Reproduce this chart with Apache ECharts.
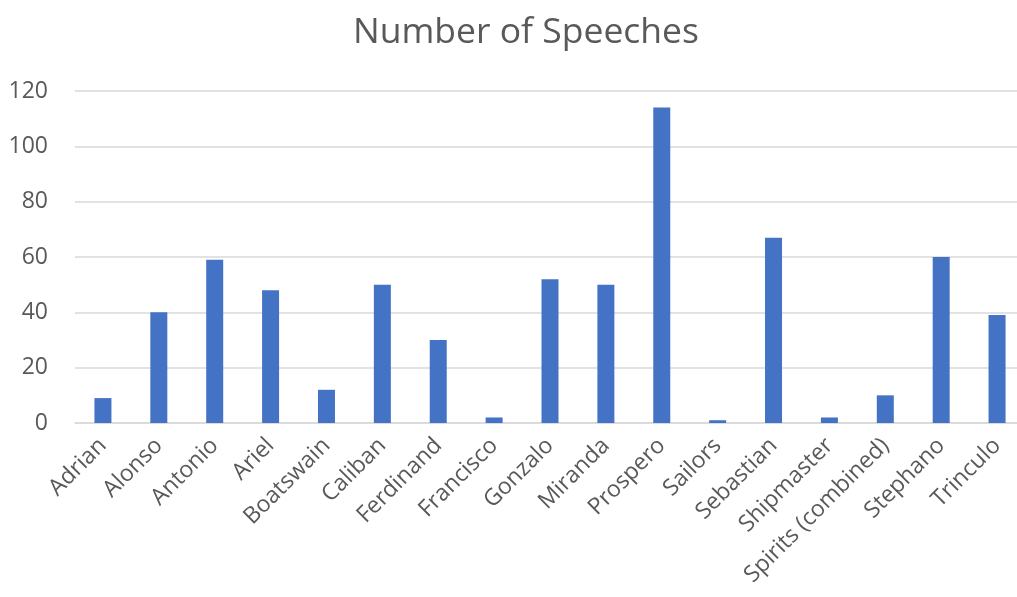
<!DOCTYPE html>
<html>
<head>
<meta charset="utf-8">
<script src="https://cdn.jsdelivr.net/npm/echarts@6/dist/echarts.min.js"></script>
<style>
html,body{margin:0;padding:0;background:#fff;overflow:hidden;}
#chart{width:1025px;height:597px;}
</style>
</head>
<body>
<div id="chart"></div>
<script>
const categories = ["Adrian","Alonso","Antonio","Ariel","Boatswain","Caliban","Ferdinand","Francisco","Gonzalo","Miranda","Prospero","Sailors","Sebastian","Shipmaster","Spirits (combined)","Stephano","Trinculo"];
const speeches = [9,40,59,48,12,50,30,2,52,50,114,1,67,2,10,60,39];
const yTicks = [0,20,40,60,80,100,120];

const chart = echarts.init(document.getElementById('chart'), null, {renderer:'canvas'});
chart.setOption({
  animation:false,
  backgroundColor:'#ffffff',
  title:{
    text:'Number of Speeches',
    left:348,
    top:10,
    textStyle:{fontFamily:'Open Sans',fontSize:35.5,fontWeight:'normal',color:'#595959'}
  },
  grid:{left:75,right:0,top:91,bottom:174,containLabel:false},
  xAxis:{
    type:'category',
    data:categories,
    axisLine:{show:true,lineStyle:{color:'#d9d9d9',width:1.5}},
    axisTick:{show:false},
    axisLabel:{rotate:45,interval:0,margin:19,color:'#595959',fontFamily:'Open Sans',fontSize:23}
  },
  yAxis:{
    type:'value',
    min:yTicks[0],
    max:yTicks[yTicks.length-1],
    interval:20,
    axisLine:{show:false},
    axisTick:{show:false},
    splitLine:{lineStyle:{color:'#d9d9d9',width:1.5}},
    axisLabel:{margin:27,color:'#595959',fontFamily:'Open Sans',fontSize:23}
  },
  series:[{
    type:'bar',
    data:speeches,
    barWidth:17,
    itemStyle:{color:'#4472c4'}
  }]
});
</script>
</body>
</html>
